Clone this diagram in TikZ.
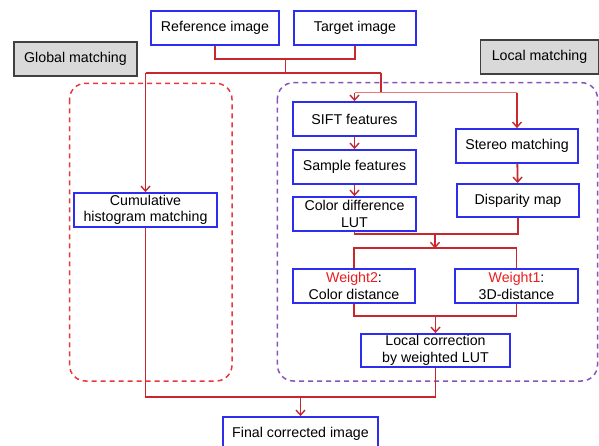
\documentclass[tikz,border=0pt]{standalone}
\usepackage{fontspec}
\setmainfont{Liberation Sans}
\usetikzlibrary{arrows.meta}
\definecolor{lnred}{RGB}{200,40,45}
\definecolor{lnpink}{RGB}{230,120,125}
\definecolor{dashred}{RGB}{235,55,60}
\definecolor{dashpur}{RGB}{135,85,185}
\definecolor{boxblue}{RGB}{45,45,240}
\definecolor{lblgray}{RGB}{217,217,217}
\definecolor{wred}{RGB}{235,30,30}
\tikzset{
  proc/.style={draw=boxblue, line width=1.8pt, fill=white, inner sep=0pt, align=center,
    font=\fontsize{14.2}{16.5}\selectfont},
  lbl/.style={draw=black!75, line width=1.5pt, fill=lblgray, inner sep=0pt, align=center,
    font=\fontsize{14.2}{16.5}\selectfont},
  conn/.style={draw=lnred, line width=1.8pt},
  connl/.style={draw=lnpink, line width=1.5pt},
  arr/.style={conn, -{Straight Barb[length=5pt,width=9pt,line width=1.4pt]}},
  grp/.style={line width=1.5pt, dash pattern=on 5pt off 4pt, rounded corners=16pt}
}
\begin{document}
\begin{tikzpicture}[x=1pt,y=-1pt]
\useasboundingbox (0,0) rectangle (599,446);
\clip (0,0) rectangle (599,446);
\fill[white] (0,0) rectangle (599,446);
% group frames
\draw[grp, draw=dashred] (69.5,83.3) rectangle (232,381);
\draw[grp, draw=dashpur] (277.4,82.7) rectangle (597.5,381);
% labels
\node[lbl, minimum width=123pt, minimum height=34pt] (glob) at (75.5,59) {Global matching};
\node[lbl, minimum width=118pt, minimum height=34pt] (loc) at (539.5,57) {Local matching};
% boxes
\node[proc, minimum width=128pt, minimum height=34pt] (ref) at (215,28) {Reference image};
\node[proc, minimum width=122pt, minimum height=34pt] (tgt) at (355,28) {Target image};
\node[proc, minimum width=143pt, minimum height=34pt] (cum) at (145.5,210) {Cumulative\\histogram matching};
\node[proc, minimum width=123pt, minimum height=34pt] (sift) at (354.5,119) {SIFT features};
\node[proc, minimum width=123pt, minimum height=34pt] (sample) at (354.5,167) {Sample features};
\node[proc, minimum width=123pt, minimum height=34pt] (lut) at (354.5,214) {Color difference\\LUT};
\node[proc, minimum width=122pt, minimum height=34pt] (stereo) at (517,146) {Stereo matching};
\node[proc, minimum width=122pt, minimum height=33pt] (disp) at (518,200.5) {Disparity map};
\node[proc, minimum width=122pt, minimum height=34pt] (w2) at (354,286) {\textcolor{wred}{Weight2}:\\Color distance};
\node[proc, minimum width=123pt, minimum height=34pt] (w1) at (516.5,286) {\textcolor{wred}{Weight1}:\\3D-distance};
\node[proc, minimum width=149pt, minimum height=33pt] (lc) at (435.5,350.5) {Local correction\\by weighted LUT};
\node[proc, minimum width=155pt, minimum height=34pt] (final) at (300.5,434) {Final corrected image};
% junctions
\coordinate (jA) at (285.4,59.3);
\coordinate (jB) at (285.4,72.7);
\coordinate (jL) at (145.5,72.7);
\coordinate (jR) at (381,72.7);
\coordinate (jR2) at (381,92.7);
\coordinate (sL) at (354.5,92.7);
\coordinate (sR) at (517,92.7);
\coordinate (m1) at (435,234.3);
\coordinate (m2) at (435,248.3);
\coordinate (m3) at (435.5,316);
\coordinate (m4) at (300.5,396.7);
% connectors
\draw[conn] (ref.south) |- (jA) -| (tgt.south);
\draw[conn] (jA) -- (jB);
\draw[conn] (jL) -- (jR);
\draw[arr] (jL) -- (cum.north);
\draw[conn] (jR) -- (jR2);
\draw[connl] (sL) -- (sR);
\draw[arr] (sL) -- (sift.north);
\draw[arr] (sR) -- (stereo.north);
\draw[arr] (sift) -- (sample);
\draw[arr] (sample) -- (lut);
\draw[arr] (stereo) -- (disp);
\draw[conn] (lut.south) |- (m1) -| (disp.south);
\draw[arr] (m1) -- (m2);
\draw[conn] (w2.north) |- (m2) -| (w1.north);
\draw[conn] (w2.south) |- (m3) -| (w1.south);
\draw[arr] (m3) -- (lc.north);
\draw[conn] (cum.south) |- (m4) -| (lc.south);
\draw[arr] (m4) -- (final.north);
\end{tikzpicture}
\end{document}
